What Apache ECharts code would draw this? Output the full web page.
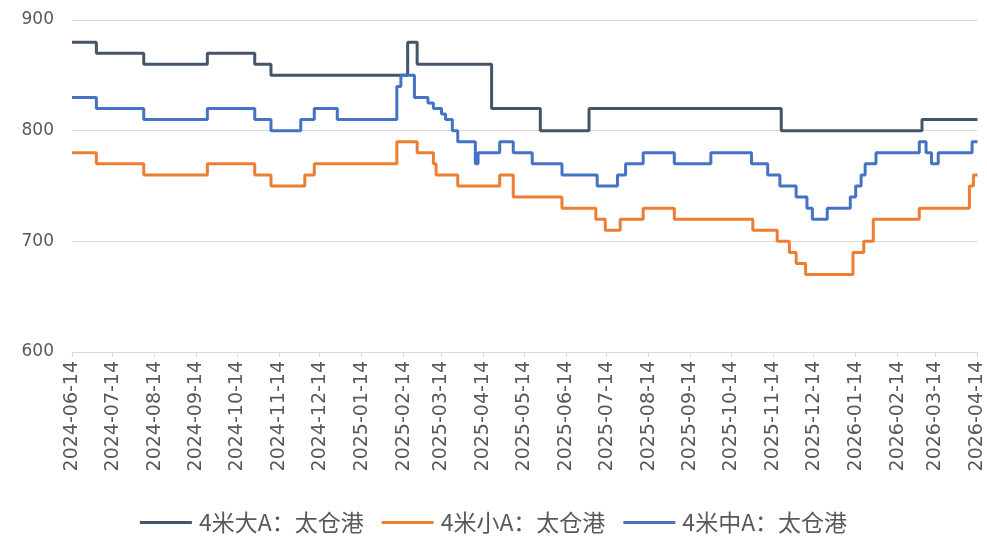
<!DOCTYPE html>
<html>
<head>
<meta charset="utf-8">
<script src="https://cdn.jsdelivr.net/npm/echarts@6/dist/echarts.min.js"></script>
<style>
  html, body { margin: 0; padding: 0; background: #fff; }
  #chart { width: 987px; height: 540px; }
</style>
</head>
<body>
<div id="chart"></div>
<script>
// 价格变动点（每个点的价格一直保持到下一个点）
var bigDates = ['2024-06-14','2024-07-02','2024-08-06','2024-09-22','2024-10-27','2024-11-08',
  '2025-02-17','2025-02-24','2025-04-20','2025-05-26','2025-07-01','2025-11-20','2026-03-04','2026-04-14'];
var bigValues = [880,870,860,870,860,850,880,860,820,800,820,800,810,810];

var smallDates = ['2024-06-14','2024-07-02','2024-08-06','2024-09-22','2024-10-27','2024-11-08','2024-12-03',
  '2024-12-10','2025-02-09','2025-02-24','2025-03-08','2025-03-10','2025-03-26','2025-04-26','2025-05-06',
  '2025-06-11','2025-07-06','2025-07-13','2025-07-24','2025-08-10','2025-09-02','2025-10-30','2025-11-17',
  '2025-11-26','2025-12-01','2025-12-08','2026-01-12','2026-01-20','2026-01-27','2026-03-02','2026-04-08',
  '2026-04-11','2026-04-14'];
var smallValues = [780,770,760,770,760,750,760,770,790,780,770,760,750,760,740,730,720,710,720,730,720,
  710,700,690,680,670,690,700,720,730,750,760,760];

var midDates = ['2024-06-14','2024-07-02','2024-08-06','2024-09-22','2024-10-27','2024-11-08','2024-11-30',
  '2024-12-10','2024-12-27','2025-02-09','2025-02-12','2025-02-22','2025-03-04','2025-03-08','2025-03-14',
  '2025-03-17','2025-03-22','2025-03-26','2025-04-08','2025-04-10','2025-04-26','2025-05-06','2025-05-20',
  '2025-06-11','2025-07-07','2025-07-22','2025-07-28','2025-08-10','2025-09-02','2025-09-29','2025-10-29',
  '2025-11-10','2025-11-19','2025-12-01','2025-12-09','2025-12-13','2025-12-24','2026-01-10','2026-01-14',
  '2026-01-18','2026-01-21','2026-01-29','2026-03-02','2026-03-07','2026-03-11','2026-03-16','2026-04-10',
  '2026-04-14'];
var midValues = [830,820,810,820,810,800,810,820,810,840,850,830,825,820,815,810,800,790,770,780,790,780,
  770,760,750,760,770,780,770,780,770,760,750,740,730,720,730,740,750,760,770,780,790,780,770,780,790,790];

var tickLabels = ['2024-06-14','2024-07-14','2024-08-14','2024-09-14','2024-10-14','2024-11-14','2024-12-14',
  '2025-01-14','2025-02-14','2025-03-14','2025-04-14','2025-05-14','2025-06-14','2025-07-14','2025-08-14',
  '2025-09-14','2025-10-14','2025-11-14','2025-12-14','2026-01-14','2026-02-14','2026-03-14','2026-04-14'];

var seriesNames = ['4米大A：太仓港', '4米小A：太仓港', '4米中A：太仓港'];
var yTicks = [600, 700, 800, 900];

function ts(s) { return new Date(s + 'T00:00:00').getTime(); }
function zip(d, v) { return d.map(function (x, i) { return [ts(x), v[i]]; }); }

var tickValues = tickLabels.map(ts);

var myChart = echarts.init(document.getElementById('chart'));

var option = {
  animation: false,
  color: ['#44546A', '#ED7D31', '#4472C4'],
  grid: { left: 72, right: 9, top: 20, bottom: 188 },
  legend: {
    bottom: 1,
    left: 'center',
    icon: 'rect',
    itemWidth: 52,
    itemHeight: 3,
    itemGap: 18,
    textStyle: { fontSize: 23, color: '#595959', fontFamily: 'Noto Sans CJK SC', padding: [0, 0, 0, 2] },
    data: seriesNames
  },
  xAxis: {
    type: 'value',
    min: tickValues[0],
    max: tickValues[tickValues.length - 1],
    axisLine: { lineStyle: { color: '#d9d9d9', width: 1 } },
    axisTick: { show: true, customValues: tickValues, length: 5, lineStyle: { color: '#d9d9d9' } },
    splitLine: { show: false },
    axisLabel: {
      customValues: tickValues,
      rotate: 90,
      margin: 9,
      fontSize: 19,
      color: '#595959',
      fontFamily: 'DejaVu Sans',
      formatter: function (v) {
        var i = tickValues.indexOf(v);
        return i >= 0 ? tickLabels[i] : '';
      }
    }
  },
  yAxis: {
    type: 'value',
    min: yTicks[0],
    max: yTicks[yTicks.length - 1],
    interval: 100,
    axisLine: { show: false },
    axisTick: { show: false },
    splitLine: { lineStyle: { color: '#d9d9d9', width: 1 } },
    axisLabel: { fontSize: 17, color: '#595959', fontFamily: 'DejaVu Sans', margin: 18 }
  },
  series: [
    { name: seriesNames[0], type: 'line', step: 'end', symbol: 'none', lineStyle: { width: 3 }, data: zip(bigDates, bigValues) },
    { name: seriesNames[1], type: 'line', step: 'end', symbol: 'none', lineStyle: { width: 3 }, data: zip(smallDates, smallValues) },
    { name: seriesNames[2], type: 'line', step: 'end', symbol: 'none', lineStyle: { width: 3 }, data: zip(midDates, midValues) }
  ]
};

myChart.setOption(option);
</script>
</body>
</html>
